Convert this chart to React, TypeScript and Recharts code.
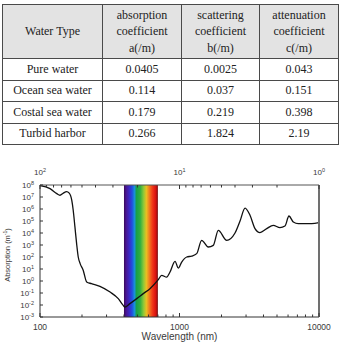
import React from "react";
import { ComposedChart, Line, XAxis, YAxis, ReferenceArea, Label } from "recharts";

// optical coefficients per water type
const waterTypes = ["Pure water", "Ocean sea water", "Costal sea water", "Turbid harbor"];
const absorptionA = [0.0405, 0.114, 0.179, 0.266];
const scatteringB = [0.0025, 0.037, 0.219, 1.824];
const attenuationC = [0.043, 0.151, 0.398, 2.19];
const columnHeaders = [
  ["Water Type"],
  ["absorption", "coefficient", "a(/m)"],
  ["scattering", "coefficient", "b(/m)"],
  ["attenuation", "coefficient", "c(/m)"],
];

// absorption spectrum of liquid water
const wavelengthNm = [
  100, 118, 132, 139, 147, 155, 162, 169, 173, 178, 183, 188, 194, 204, 216, 234, 269, 318, 364, 395,
  406, 441, 494, 550, 614, 705, 745, 809, 855, 929, 980, 1037, 1127, 1223, 1328, 1442, 1608, 1746,
  1897, 2179, 2500, 2716, 2950, 3202, 3477, 3776, 4218, 4700, 5248, 5700, 6091, 6544, 7108, 8872, 10000,
];
const absorptionPerM = [
  8.9e7, 5.0e7, 1.9e7, 1.4e7, 2.1e7, 2.8e7, 2.1e7, 5.2e6, 7.9e5, 3.2e4, 1300, 100, 28, 7.9, 0.83, 0.6,
  0.36, 0.12, 0.034, 0.0093, 0.0068, 0.013, 0.034, 0.089, 0.23, 1.3, 3.0, 2.1, 5.6, 44, 12, 38, 100,
  120, 190, 2450, 680, 930, 16600, 2450, 1e4, 1e5, 1.2e6, 3e5, 2.3e4, 1.07e4, 2.3e4, 4.4e4, 2.8e4,
  3.8e4, 2.6e5, 8.3e4, 6e4, 6e4, 7.2e4,
];

const visibleNm = [400, 700];

const yExponents = [-3, -2, -1, 0, 1, 2, 3, 4, 5, 6, 7, 8];
const bottomTicks = [
  100, 200, 300, 400, 500, 600, 700, 800, 900, 1000, 2000, 3000, 4000, 5000, 6000, 7000, 8000, 9000, 10000,
];
const bottomLabels = [100, 1000, 10000];
// reciprocal scale along the top edge
const topValues = [100, 90, 80, 70, 60, 50, 40, 30, 20, 10, 9, 8, 7, 6, 5, 4, 3, 2, 1];
const topLabels: Record<number, string> = { 100: "2", 10: "1", 1: "0" };

const data = wavelengthNm.map((wl, i) => ({ wl, a: absorptionPerM[i] }));
const yTicks = yExponents.map((e) => Math.pow(10, e));
const topTicks = topValues.map((v) => 10000 / v);

const sans = "'Liberation Sans', Arial, sans-serif";
const serif = "'Liberation Serif', 'DejaVu Serif', 'Times New Roman', serif";
const tickText = { fontFamily: sans, fontSize: 8, fill: "#3a3a3a" };

function LeftTick({ x, y, payload }: any) {
  const exp = Math.round(Math.log10(payload.value));
  return (
    <g>
      <line x1={x + 6} x2={x + 9} y1={y} y2={y} stroke="#333" />
      <text x={x} y={y} dy={3} textAnchor="end" {...tickText}>
        10
        <tspan dy={-3.5} fontSize={5.5}>
          {exp}
        </tspan>
      </text>
    </g>
  );
}

function BottomTick({ x, y, payload }: any) {
  const major = bottomLabels.includes(payload.value);
  return (
    <g>
      <line x1={x} x2={x} y1={y - 10} y2={y - 10 - (major ? 4 : 2.5)} stroke="#333" />
      {major && (
        <text x={x} y={y} dy={3} textAnchor="middle" {...tickText} fontSize={8.5}>
          {payload.value}
        </text>
      )}
    </g>
  );
}

function TopTick({ x, y, payload }: any) {
  const v = Math.round(10000 / payload.value);
  const label = topLabels[v];
  return (
    <g>
      <line x1={x} x2={x} y1={y + 13} y2={y + 13 + (label ? 4 : 2.5)} stroke="#333" />
      {label && (
        <text x={x} y={y} dy={3} textAnchor="middle" {...tickText}>
          10
          <tspan dy={-3.5} fontSize={5.5}>
            {label}
          </tspan>
        </text>
      )}
    </g>
  );
}

function WaterTable() {
  const cell: React.CSSProperties = {
    border: "1px solid #4a4a4a",
    padding: 0,
    textAlign: "center",
    verticalAlign: "middle",
    fontFamily: serif,
    fontSize: 12,
    fontWeight: "normal",
    color: "#222",
  };
  return (
    <table
      style={{
        position: "absolute",
        left: 2,
        top: 4,
        width: 336,
        borderCollapse: "collapse",
        tableLayout: "fixed",
        border: "1.5px solid #333",
      }}
    >
      <colgroup>
        <col style={{ width: 100 }} />
        <col style={{ width: 79 }} />
        <col style={{ width: 78 }} />
        <col style={{ width: 79 }} />
      </colgroup>
      <thead>
        <tr style={{ height: 54, background: "#e3e3e3" }}>
          {columnHeaders.map((lines, i) => (
            <th key={i} style={{ ...cell, lineHeight: "16.5px" }}>
              {lines.map((l, j) => (
                <div key={j}>{l}</div>
              ))}
            </th>
          ))}
        </tr>
      </thead>
      <tbody>
        {waterTypes.map((name, i) => (
          <tr key={name} style={{ height: 21.5 }}>
            <td style={cell}>{name}</td>
            <td style={cell}>{absorptionA[i]}</td>
            <td style={cell}>{scatteringB[i]}</td>
            <td style={cell}>{attenuationC[i]}</td>
          </tr>
        ))}
      </tbody>
    </table>
  );
}

function AbsorptionChart() {
  return (
    <div style={{ position: "absolute", left: 0, top: 160 }}>
      <ComposedChart width={340} height={186} data={data} margin={{ top: 24, right: 20, bottom: 28, left: 39 }}>
        <defs>
          <linearGradient id="visible" x1="0" y1="0" x2="1" y2="0">
            <stop offset="0%" stopColor="#38095a" />
            <stop offset="6%" stopColor="#4a1590" />
            <stop offset="16%" stopColor="#3a2ac8" />
            <stop offset="24%" stopColor="#2050e0" />
            <stop offset="31%" stopColor="#1890d8" />
            <stop offset="37%" stopColor="#18a048" />
            <stop offset="48%" stopColor="#30b040" />
            <stop offset="58%" stopColor="#90c838" />
            <stop offset="66%" stopColor="#e8c020" />
            <stop offset="74%" stopColor="#f08020" />
            <stop offset="84%" stopColor="#f03818" />
            <stop offset="94%" stopColor="#d81010" />
            <stop offset="100%" stopColor="#701010" />
          </linearGradient>
        </defs>
        <XAxis
          dataKey="wl"
          type="number"
          scale="log"
          domain={[100, 10000]}
          allowDataOverflow
          ticks={bottomTicks}
          interval={0}
          height={1}
          tickSize={0}
          tickMargin={10}
          tickLine={false}
          tick={<BottomTick />}
          axisLine={{ stroke: "#333" }}
        >
          <Label
            content={() => (
              <text x={179.5} y={180} textAnchor="middle" fontFamily={sans} fontSize={10} fill="#3a3a3a">
                Wavelength (nm)
              </text>
            )}
          />
        </XAxis>
        <XAxis
          xAxisId="top"
          orientation="top"
          dataKey="wl"
          type="number"
          scale="log"
          domain={[100, 10000]}
          allowDataOverflow
          ticks={topTicks}
          interval={0}
          height={1}
          tickSize={0}
          tickMargin={13}
          tickLine={false}
          tick={<TopTick />}
          axisLine={{ stroke: "#555" }}
        />
        <YAxis
          type="number"
          scale="log"
          domain={[1e-3, 1e8]}
          allowDataOverflow
          ticks={yTicks}
          interval={0}
          width={1}
          tickSize={0}
          tickMargin={6}
          tickLine={false}
          tick={<LeftTick />}
          axisLine={{ stroke: "#333" }}
        >
          <Label
            content={() => (
              <text
                x={10}
                y={95}
                transform="rotate(-90 10 95)"
                textAnchor="middle"
                fontFamily={sans}
                fontSize={7.5}
                fill="#3a3a3a"
              >
                Absorption (m
                <tspan dy={-3} fontSize={5}>
                  -1
                </tspan>
                <tspan dy={3}>)</tspan>
              </text>
            )}
          />
        </YAxis>
        <YAxis
          yAxisId="right"
          orientation="right"
          type="number"
          scale="log"
          domain={[1e-3, 1e8]}
          allowDataOverflow
          ticks={yTicks}
          width={1}
          tick={false}
          tickLine={false}
          axisLine={{ stroke: "#707070", strokeWidth: 2 }}
        />
        <ReferenceArea
          x1={visibleNm[0]}
          x2={visibleNm[1]}
          y1={1e-3}
          y2={1e8}
          fill="url(#visible)"
          fillOpacity={1}
          stroke="none"
        />
        <Line
          dataKey="a"
          type="monotone"
          stroke="#111"
          strokeWidth={1.3}
          dot={false}
          isAnimationActive={false}
        />
      </ComposedChart>
    </div>
  );
}

export default function App() {
  return (
    <div style={{ position: "absolute", left: 0, top: 0, width: 340, height: 346, background: "#fff" }}>
      <WaterTable />
      <AbsorptionChart />
    </div>
  );
}
